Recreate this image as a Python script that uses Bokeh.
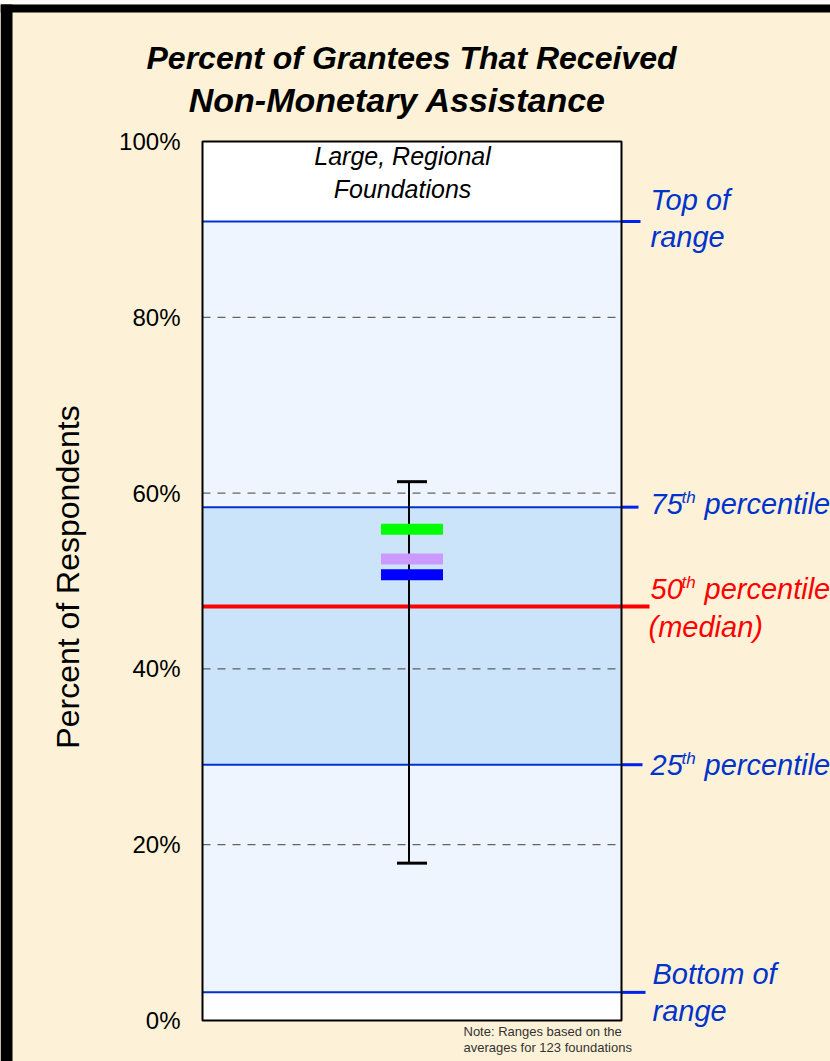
from bokeh.plotting import figure
from bokeh.models import Range1d
from bokeh.core.properties import value
from bokeh.embed import file_html
from bokeh.resources import INLINE
import math

# ---------------- data ----------------
tick_values = [0, 20, 40, 60, 80, 100]
tick_labels = ["0%", "20%", "40%", "60%", "80%", "100%"]
grid_values = [20, 40, 60, 80]

band_names = ["Top of range", "75th percentile", "50th percentile (median)",
              "25th percentile", "Bottom of range"]
band_values = [90.9, 58.4, 47.1, 29.1, 3.2]

whisker_low = 17.9
whisker_high = 61.3

marker_values = [55.9, 52.5, 50.7]
marker_colors = ["#00FF00", "#CC99FF", "#0000FF"]

# ---------------- layout helpers ----------------
W, H = 830, 1061
Y0_PX = 1020.0      # canvas row of 0%
PX_PER = 8.79       # pixels per percentage point


def vy(px):
    """canvas row -> value on the y scale"""
    return (Y0_PX - px) / PX_PER


CREAM = "#FDF2D7"
BLUE_TXT = "#0033CC"
BL, BR = 202, 621
BC = (BL + BR) / 2
FONT = value("Liberation Sans")

p = figure(width=W, height=H, x_range=Range1d(0, W), y_range=Range1d(vy(H), vy(0)),
           output_backend="svg", toolbar_location=None, min_border=0,
           x_axis_location=None, y_axis_location=None, title=None)
p.grid.visible = False
p.outline_line_color = None
p.background_fill_color = CREAM
p.border_fill_color = CREAM

# outer frame of the slide
p.quad(left=0, right=W, top=vy(0), bottom=vy(4), fill_color="#FFFFFF", line_color=None)
p.quad(left=0, right=W, top=vy(4), bottom=vy(12), fill_color="#000000", line_color=None)
p.quad(left=0, right=12, top=vy(4), bottom=vy(H), fill_color="#000000", line_color=None)

# plot box and bands
p.quad(left=BL, right=BR, top=tick_values[-1], bottom=tick_values[0],
       fill_color="#FFFFFF", line_color=None)
p.quad(left=BL, right=BR, top=band_values[0], bottom=band_values[4],
       fill_color="#EFF5FE", line_color=None)
p.quad(left=BL, right=BR, top=band_values[1], bottom=band_values[3],
       fill_color="#CCE4FA", line_color=None)

# dashed grid
p.segment(x0=[BL] * len(grid_values), x1=[BR] * len(grid_values),
          y0=grid_values, y1=grid_values, line_color="#404040",
          line_width=1, line_dash="8 7")

# percentile lines
line_colors = ["#0033CC", "#0033CC", "#FF0000", "#0033CC", "#0033CC"]
ext_colors = ["#0022EE", "#0022EE", "#FF0000", "#0022EE", "#0022EE"]
line_widths = [2, 2, 4, 2, 2]
ext_ends = [640, 638, 649, 642, 645]
for v, c, ec, lw, e in zip(band_values, line_colors, ext_colors, line_widths, ext_ends):
    p.segment(x0=[BR], x1=[e], y0=[v], y1=[v], line_color=ec, line_width=max(lw, 3))
    p.segment(x0=[BL], x1=[BR], y0=[v], y1=[v], line_color=c, line_width=lw)

# box outline
p.quad(left=BL, right=BR, top=tick_values[-1], bottom=tick_values[0],
       fill_color=None, line_color="#000000", line_width=2)

# whisker
p.segment(x0=[BC - 3], x1=[BC - 3], y0=[whisker_low], y1=[whisker_high],
          line_color="#000000", line_width=2)
p.segment(x0=[BC - 15, BC - 15], x1=[BC + 15, BC + 15],
          y0=[whisker_low, whisker_high], y1=[whisker_low, whisker_high],
          line_color="#000000", line_width=3)

# markers
p.rect(x=[BC] * len(marker_values), y=marker_values, width=62, height=11,
       height_units="screen", fill_color=marker_colors, line_color=None)

# ---------------- texts ----------------
# title
p.text(x=[411], y=[vy(57)], text=["Percent of Grantees That Received"],
       text_font=FONT, text_font_style="bold italic", text_font_size="32px",
       text_align="center", text_baseline="middle", text_color="#000000")
p.text(x=[397], y=[vy(99)], text=["Non-Monetary Assistance"],
       text_font=FONT, text_font_style="bold italic", text_font_size="34px",
       text_align="center", text_baseline="middle", text_color="#000000")

# tick labels
p.text(x=[180] * len(tick_values), y=tick_values, text=tick_labels,
       text_font=FONT, text_font_size="24px", text_align="right",
       text_baseline="middle", text_color="#000000")

# y axis title
p.text(x=[67], y=[vy(576.5)], text=["Percent of Respondents"], angle=math.pi / 2,
       text_font=FONT, text_font_size="32px", text_align="center",
       text_baseline="middle", text_color="#000000")

# box header
p.text(x=[402, 402], y=[vy(155), vy(188)], text=["Large, Regional", "Foundations"],
       text_font=FONT, text_font_style="italic", text_font_size="25px",
       text_align="center", text_baseline="middle", text_color="#000000")

# right side labels
BIG = "29px"
SMALL = "17px"
p.text(x=[650, 650], y=[vy(199), vy(236)], text=["Top of", "range"],
       text_font=FONT, text_font_style="italic", text_font_size=BIG,
       text_baseline="middle", text_color=BLUE_TXT)
p.text(x=[652, 652], y=[vy(973), vy(1010)], text=["Bottom of", "range"],
       text_font=FONT, text_font_style="italic", text_font_size=BIG,
       text_baseline="middle", text_color=BLUE_TXT)

for num, mid, col in [("75", 503, BLUE_TXT), ("50", 588, "#FF0000"), ("25", 764, BLUE_TXT)]:
    p.text(x=[650], y=[vy(mid)], text=[num], text_font=FONT, text_font_style="italic",
           text_font_size=BIG, text_baseline="middle", text_color=col)
    p.text(x=[681], y=[vy(mid - 6)], text=["th"], text_font=FONT, text_font_style="italic",
           text_font_size=SMALL, text_baseline="middle", text_color=col)
    p.text(x=[704], y=[vy(mid)], text=["percentile"], text_font=FONT, text_font_style="italic",
           text_font_size=BIG, text_baseline="middle", text_color=col)

p.text(x=[648], y=[vy(626)], text=["(median)"], text_font=FONT, text_font_style="italic",
       text_font_size=BIG, text_baseline="middle", text_color="#FF0000")

# note
p.text(x=[463, 463], y=[vy(1031), vy(1047)],
       text=["Note: Ranges based on the", "averages for 123 foundations"],
       text_font=FONT, text_font_size="13px", text_baseline="middle",
       text_color="#333333")

open("out.html", "w").write(file_html(p, INLINE))
